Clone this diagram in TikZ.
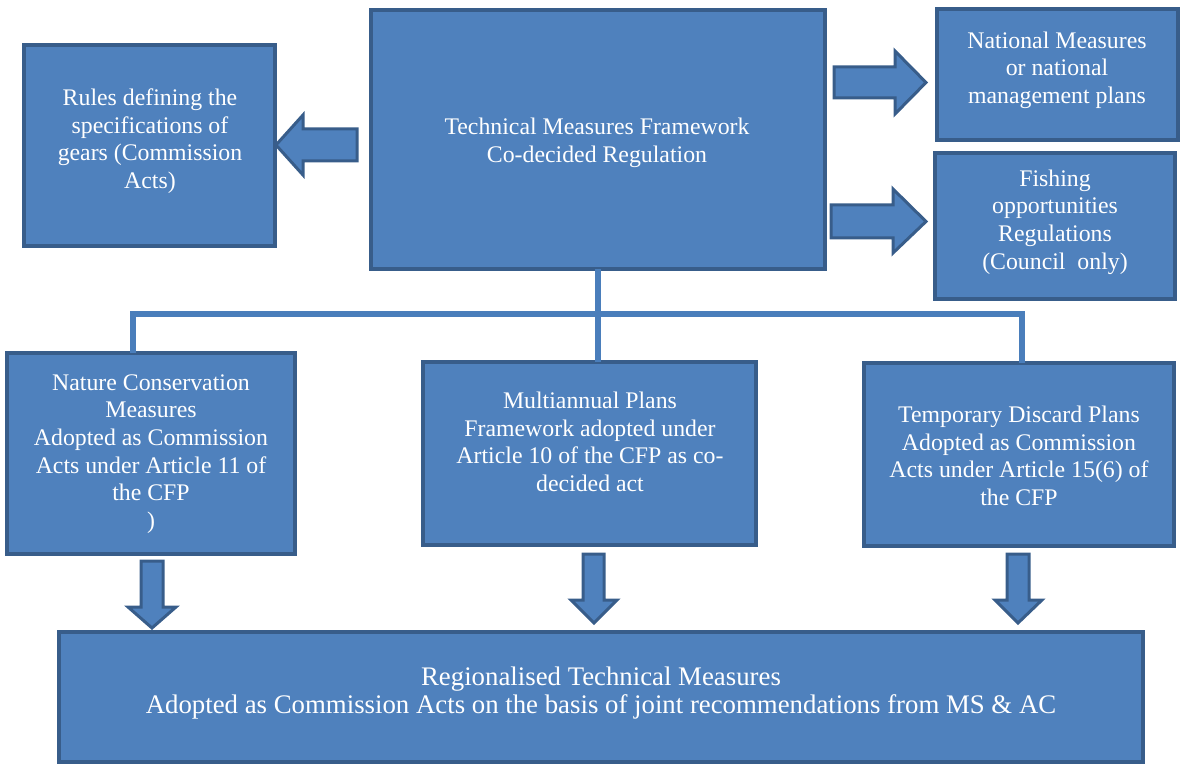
\documentclass[tikz,border=0pt]{standalone}
\usepackage{fontspec}
\setmainfont{Liberation Serif}
\definecolor{fillc}{HTML}{4F81BD}
\definecolor{edgec}{HTML}{385D8A}
\definecolor{linec}{HTML}{4A7EBB}
\begin{document}
\begin{tikzpicture}[x=1pt,y=-1pt,
  box/.style={draw=edgec, fill=fillc, line width=4pt, rectangle, inner sep=0pt, outer sep=0pt},
  txt/.style={text=white, align=center, font=\fontsize{23.8}{27.6}\selectfont, inner sep=0pt},
  bigtxt/.style={txt, font=\fontsize{26.8}{28}\selectfont},
  conn/.style={draw=linec, line width=6pt},
  barrow/.style={draw=edgec, fill=fillc, line width=3pt, line join=miter}]
\useasboundingbox (0,0) rectangle (1181,767);

% boxes
\node[box, minimum width=251pt, minimum height=201pt] (rules) at (149.5,145.5) {};
\node[box, minimum width=454pt, minimum height=259pt] (central) at (598,139.5) {};
\node[box, minimum width=241pt, minimum height=131pt] (national) at (1057.5,74.5) {};
\node[box, minimum width=240pt, minimum height=146pt] (fishing) at (1055,226) {};
\node[box, minimum width=288pt, minimum height=201pt] (nature) at (151,453.5) {};
\node[box, minimum width=333pt, minimum height=183pt] (multi) at (589.5,453.5) {};
\node[box, minimum width=310pt, minimum height=183pt] (temp) at (1019,454.5) {};
\node[box, minimum width=1084pt, minimum height=130pt] (regional) at (601,697) {};

% texts
\node[txt] (trules) at (150,141) {Rules defining the\\specifications of\\gears (Commission\\Acts)};
\node[txt] (tcentral) at (597,143) {Technical Measures Framework\\Co-decided Regulation};
\node[txt] (tnational) at (1057,70) {National Measures\\or national\\management plans};
\node[txt] (tfishing) at (1055,222) {Fishing\\opportunities\\Regulations\\(Council~ only)};
\node[txt] (tnature) at (151,454) {Nature Conservation\\Measures\\Adopted as Commission\\Acts under Article 11 of\\the CFP\\)};
\node[txt] (tmulti) at (590,442) {Multiannual Plans\\Framework adopted under\\Article 10 of the CFP as co-\\decided act};
\node[txt] (ttemp) at (1019,456) {Temporary Discard Plans\\Adopted as Commission\\Acts under Article 15(6) of\\the CFP};
\node[bigtxt] (tregional) at (601,693) {Regionalised Technical Measures\\Adopted as Commission Acts on the basis of joint recommendations from MS \& AC};

% tree connectors
\coordinate (junc) at (central.south |- 0,314);
\draw[conn] (central.south) -- (junc);
\draw[conn] (nature.north -| 133,0) |- (junc);
\draw[conn] (temp.north -| 1022,0) |- (junc);
\draw[conn] (multi.north -| junc) -- (junc);

% block arrows
\draw[barrow] (357,129) -- (303,129) -- (303,115) -- (276,145) -- (303,175) -- (303,161) -- (357,161) -- cycle;
\draw[barrow] (834,67) -- (895,67) -- (895,51) -- (926,82.5) -- (895,114) -- (895,98) -- (834,98) -- cycle;
\draw[barrow] (831,205) -- (893,205) -- (893,189) -- (926,221.5) -- (893,253) -- (893,238) -- (831,238) -- cycle;
\draw[barrow] (141,561) -- (163,561) -- (163,607) -- (176,607) -- (152,628) -- (128,607) -- (141,607) -- cycle;
\draw[barrow] (583,554) -- (604,554) -- (604,600) -- (617,600) -- (594,623) -- (571,600) -- (583,600) -- cycle;
\draw[barrow] (1007,554) -- (1029,554) -- (1029,600) -- (1042,600) -- (1018,623) -- (995,600) -- (1007,600) -- cycle;
\end{tikzpicture}
\end{document}
